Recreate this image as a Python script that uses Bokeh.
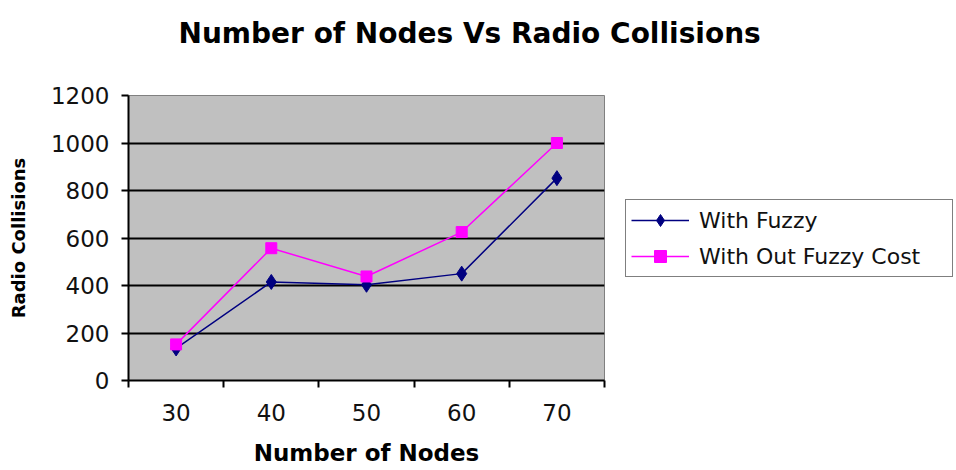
from bokeh.plotting import figure
from bokeh.models import FixedTicker, Legend, LegendItem, Range1d, Title
from bokeh.embed import file_html
from bokeh.resources import INLINE

# ---- data ----
nodes = [30, 40, 50, 60, 70]
with_fuzzy = [135, 415, 403, 450, 852]
without_fuzzy = [152, 557, 438, 625, 1000]
y_ticks = [0, 200, 400, 600, 800, 1000, 1200]
series_names = ["With Fuzzy", "With Out Fuzzy Cost"]
chart_title = "Number of Nodes Vs Radio Collisions"

FONT = "DejaVu Sans"

p = figure(frame_width=476, frame_height=285, output_backend="svg", toolbar_location=None,
           x_range=Range1d(25, 75), y_range=Range1d(0, 1200), title=None,
           min_border_left=128, min_border_right=0, min_border_top=95, min_border_bottom=0)

# spacer between frame and title (closest to the frame)
spacer = Title(text=" ", text_font_size="10px", standoff=33)
p.add_layout(spacer, "above")
main_title = Title(text=chart_title, text_font=FONT, text_font_size="28px",
                   text_font_style="bold", text_color="black", align="left",
                   offset=50, standoff=0)
p.add_layout(main_title, "above")

p.background_fill_color = "#C0C0C0"
p.border_fill_color = "white"
p.outline_line_color = "#808080"
p.outline_line_width = 1

# grid
p.xgrid.grid_line_color = None
p.ygrid.grid_line_color = "black"
p.ygrid.grid_line_width = 2
p.ygrid.ticker = FixedTicker(ticks=y_ticks)

# x axis
xa = p.xaxis[0]
xa.ticker = FixedTicker(ticks=nodes, minor_ticks=[25, 35, 45, 55, 65, 75])
xa.major_tick_line_color = None
xa.major_tick_out = 0
xa.major_tick_in = 0
xa.minor_tick_out = 7
xa.minor_tick_in = 0
xa.minor_tick_line_color = "black"
xa.minor_tick_line_width = 2
xa.axis_line_color = "black"
xa.axis_line_width = 2
xa.major_label_text_font = FONT
xa.major_label_text_font_size = "23px"
xa.major_label_text_color = "#111111"
xa.major_label_standoff = 16
xa.axis_label = "Number of Nodes"
xa.axis_label_text_font = FONT
xa.axis_label_text_font_size = "23px"
xa.axis_label_text_font_style = "bold"
xa.axis_label_text_color = "black"
xa.axis_label_standoff = 16

# y axis
ya = p.yaxis[0]
ya.ticker = FixedTicker(ticks=y_ticks)
ya.major_tick_out = 7
ya.major_tick_in = 0
ya.major_tick_line_width = 2
ya.minor_tick_line_color = None
ya.axis_line_color = "black"
ya.axis_line_width = 2
ya.major_label_text_font = FONT
ya.major_label_text_font_size = "23px"
ya.major_label_text_color = "#111111"
ya.major_label_standoff = 12
ya.axis_label = "Radio Collisions"
ya.axis_label_text_font = FONT
ya.axis_label_text_font_size = "18px"
ya.axis_label_text_font_style = "bold"
ya.axis_label_text_color = "black"
ya.axis_label_standoff = 19

# series
l1 = p.line(nodes, with_fuzzy, line_color="#000080", line_width=1.5)
m1 = p.scatter(nodes, with_fuzzy, marker="diamond", size=15,
               fill_color="#000080", line_color="#000080")
l2 = p.line(nodes, without_fuzzy, line_color="#FF00FF", line_width=1.5)
m2 = p.scatter(nodes, without_fuzzy, marker="square", size=11,
               fill_color="#FF00FF", line_color="#FF00FF")

legend = Legend(items=[LegendItem(label=series_names[0], renderers=[l1, m1]),
                       LegendItem(label=series_names[1], renderers=[l2, m2])],
                location=(21, 103), orientation="vertical")
legend.background_fill_color = "white"
legend.background_fill_alpha = 1
legend.border_line_color = "black"
legend.border_line_width = 1
legend.label_text_font = FONT
legend.label_text_font_size = "22px"
legend.label_text_color = "#111111"
legend.glyph_width = 58
legend.glyph_height = 30
legend.label_height = 30
legend.label_width = 248
legend.label_standoff = 10
legend.spacing = 6
legend.padding = 5
legend.margin = 0
p.add_layout(legend, "right")

open("out.html", "w").write(file_html(p, INLINE))
